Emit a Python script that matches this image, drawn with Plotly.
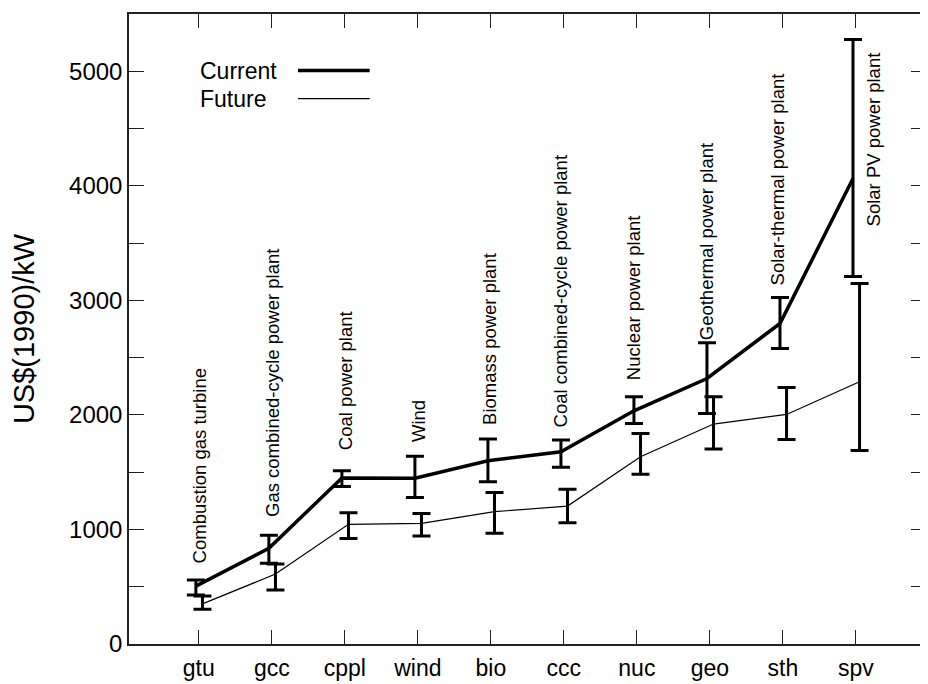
import plotly.graph_objects as go

categories = ["gtu", "gcc", "cppl", "wind", "bio", "ccc", "nuc", "geo", "sth", "spv"]
plant_names = ["Combustion gas turbine", "Gas combined-cycle power plant", "Coal power plant",
               "Wind", "Biomass power plant", "Coal combined-cycle power plant",
               "Nuclear power plant", "Geothermal power plant", "Solar-thermal power plant",
               "Solar PV power plant"]

current_mid = [505, 835, 1450, 1448, 1600, 1678, 2036, 2318, 2798, 4064]
current_high = [558, 950, 1512, 1640, 1789, 1780, 2158, 2629, 3025, 5277]
current_low = [428, 705, 1375, 1280, 1416, 1542, 1926, 2013, 2580, 3208]

future_mid = [350, 611, 1045, 1053, 1155, 1204, 1635, 1920, 2004, 2290]
future_high = [419, 698, 1146, 1140, 1323, 1350, 1838, 2158, 2240, 3148]
future_low = [303, 471, 922, 942, 966, 1059, 1483, 1702, 1786, 1690]

y_tickvals = [0, 500, 1000, 1500, 2000, 2500, 3000, 3500, 4000, 4500, 5000]
y_ticktext = ["0", "", "1000", "", "2000", "", "3000", "", "4000", "", "5000"]

FONT = "Liberation Sans, Arial, Helvetica, sans-serif"
idx = list(range(len(categories)))

fig = go.Figure()

fig.add_trace(go.Scatter(
    x=[i - 0.04 for i in idx], y=current_mid, mode="lines", name="Current",
    line=dict(color="black", width=3.5),
    error_y=dict(type="data", symmetric=False,
                 array=[h - m for h, m in zip(current_high, current_mid)],
                 arrayminus=[m - l for m, l in zip(current_mid, current_low)],
                 color="black", thickness=3, width=9),
    showlegend=False))

fig.add_trace(go.Scatter(
    x=[i + 0.05 for i in idx], y=future_mid, mode="lines", name="Future",
    line=dict(color="black", width=1.2),
    error_y=dict(type="data", symmetric=False,
                 array=[h - m for h, m in zip(future_high, future_mid)],
                 arrayminus=[m - l for m, l in zip(future_mid, future_low)],
                 color="black", thickness=3, width=9),
    showlegend=False))

# rotated plant labels above the bars
label_xshift = [1, 0, 0, 0, -2, -3, -4, -4, -5, 18]
label_yshift = [15, 16, 19, 12, 12, 11, 15, 1, 10, -11]
for i, name in enumerate(plant_names):
    last = (i == len(plant_names) - 1)
    fig.add_annotation(
        x=i, y=current_high[i], xref="x", yref="y", text=name, textangle=-90,
        showarrow=False, xanchor="center", yanchor="top" if last else "bottom",
        xshift=label_xshift[i], yshift=label_yshift[i],
        font=dict(family=FONT, size=18.5, color="black"))

# manual legend (text left, line right)
fig.add_annotation(x=0.0866, y=0.9095, xref="paper", yref="paper", text="Current",
                   showarrow=False, xanchor="left", yanchor="middle",
                   font=dict(family=FONT, size=23, color="black"))
fig.add_annotation(x=0.0866, y=0.865, xref="paper", yref="paper", text="Future",
                   showarrow=False, xanchor="left", yanchor="middle",
                   font=dict(family=FONT, size=23, color="black"))
fig.add_shape(type="line", xref="paper", yref="paper", x0=0.212, x1=0.302,
              y0=0.9103, y1=0.9103, line=dict(color="black", width=3.5))
fig.add_shape(type="line", xref="paper", yref="paper", x0=0.212, x1=0.302,
              y0=0.8656, y1=0.8656, line=dict(color="black", width=1.2))

fig.update_layout(
    width=920, height=676,
    margin=dict(l=121, r=0, t=6, b=40),
    paper_bgcolor="white", plot_bgcolor="white",
    font=dict(family=FONT, size=24, color="black"),
    xaxis=dict(range=[-0.956, 9.96], tickmode="array", tickvals=idx, ticktext=categories,
               ticks="inside", ticklen=14, tickwidth=1.2, tickcolor="#222",
               showline=True, linecolor="#222", linewidth=1.5, mirror="ticks",
               showgrid=False, zeroline=False, tickfont=dict(size=23),
               ticklabelstandoff=3),
    yaxis=dict(range=[0, 5500], tickmode="array", tickvals=y_tickvals, ticktext=y_ticktext,
               ticks="inside", ticklen=15, tickwidth=1.2, tickcolor="#222",
               showline=True, linecolor="#222", linewidth=1.5, mirror="ticks",
               showgrid=False, zeroline=False, tickfont=dict(size=24),
               title=dict(text="US$(1990)/kW", font=dict(size=29), standoff=30)),
)

fig.write_html("out.html")
